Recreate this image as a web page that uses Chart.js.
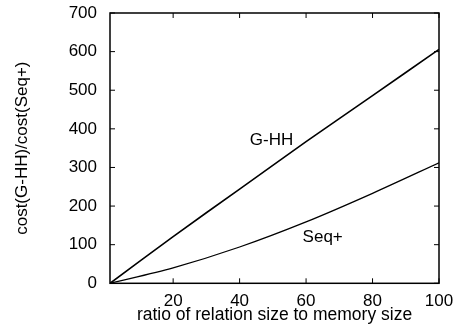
<!DOCTYPE html>
<html>
<head>
<meta charset="utf-8">
<script src="https://cdn.jsdelivr.net/npm/chart.js@4"></script>
<style>
  html, body { margin: 0; padding: 0; background: #fff; }
  canvas { display: block; }
</style>
</head>
<body>
<canvas id="chart" width="457" height="330"></canvas>
<script>
// ratio of relation size to memory size
const ratios = [1, 20, 40, 60, 80, 100];
const gHH = [0, 121, 244, 367, 486, 606];
const seqPlus = [0, 40, 94, 159, 233, 312];
const xTicks = [20, 40, 60, 80, 100];
const curveLabels = [
    { text: 'G-HH', x: 49.6, y: 370 },
    { text: 'Seq+', x: 65, y: 118 }
];

const font = 'Liberation Sans, Arial, Helvetica, sans-serif';

// gnuplot style frame with inward ticks + curve labels
const framePlugin = {
    id: 'frame',
    afterDatasetsDraw(chart) {
        const { ctx, chartArea: a, scales: { x, y } } = chart;
        ctx.save();
        ctx.strokeStyle = '#000';
        ctx.lineWidth = 1.5;
        ctx.strokeRect(a.left, a.top, a.right - a.left, a.bottom - a.top);
        ctx.lineWidth = 1;
        ctx.beginPath();
        y.ticks.forEach(t => {
            const py = y.getPixelForValue(t.value);
            ctx.moveTo(a.left, py); ctx.lineTo(a.left + 5, py);
            ctx.moveTo(a.right, py); ctx.lineTo(a.right - 5, py);
        });
        x.ticks.forEach(t => {
            const px = x.getPixelForValue(t.value);
            ctx.moveTo(px, a.bottom); ctx.lineTo(px, a.bottom - 5);
            ctx.moveTo(px, a.top); ctx.lineTo(px, a.top + 5);
        });
        ctx.stroke();

        ctx.fillStyle = '#000';
        ctx.font = '17px ' + font;
        ctx.textAlign = 'center';
        ctx.textBaseline = 'middle';
        curveLabels.forEach(l => {
            ctx.fillText(l.text, x.getPixelForValue(l.x), y.getPixelForValue(l.y));
        });
        ctx.restore();
    }
};

new Chart(document.getElementById('chart').getContext('2d'), {
    type: 'line',
    data: {
        datasets: [{
            label: 'G-HH',
            data: ratios.map((r, i) => ({ x: r, y: gHH[i] })),
            borderColor: '#000',
            borderWidth: 1.6,
            pointRadius: 0,
            tension: 0.3
        }, {
            label: 'Seq+',
            data: ratios.map((r, i) => ({ x: r, y: seqPlus[i] })),
            borderColor: '#000',
            borderWidth: 1.3,
            pointRadius: 0,
            tension: 0.3
        }]
    },
    options: {
        responsive: false,
        animation: false,
        devicePixelRatio: 1,
        layout: {
            padding: { left: 0, right: 18, top: 13, bottom: 4 }
        },
        plugins: {
            legend: { display: false },
            tooltip: { enabled: false }
        },
        scales: {
            x: {
                type: 'linear',
                min: 1,
                max: 100,
                afterBuildTicks: scale => {
                    scale.ticks = xTicks.map(v => ({ value: v }));
                },
                afterFit: scale => {
                    scale.height = 42.7;
                    scale.paddingLeft = 0;
                    scale.paddingRight = 0;
                },
                grid: { display: false, drawTicks: false },
                border: { display: false },
                ticks: {
                    padding: 8,
                    color: '#000',
                    font: { family: font, size: 17 },
                    maxRotation: 0
                },
                title: {
                    display: true,
                    text: 'ratio of relation size to memory size',
                    color: '#000',
                    font: { family: font, size: 17.5 },
                    padding: { top: 0, bottom: 0 }
                }
            },
            y: {
                min: 0,
                max: 700,
                afterFit: scale => {
                    scale.width = 110;
                    scale.paddingTop = 0;
                    scale.paddingBottom = 0;
                },
                grid: { display: false, drawTicks: false },
                border: { display: false },
                ticks: {
                    stepSize: 100,
                    padding: 13,
                    color: '#000',
                    font: { family: font, size: 17 }
                },
                title: {
                    display: true,
                    text: 'cost(G-HH)/cost(Seq+)',
                    color: '#000',
                    font: { family: font, size: 17 },
                    padding: { top: 12, bottom: 0 }
                }
            }
        }
    },
    plugins: [framePlugin]
});
</script>
</body>
</html>
